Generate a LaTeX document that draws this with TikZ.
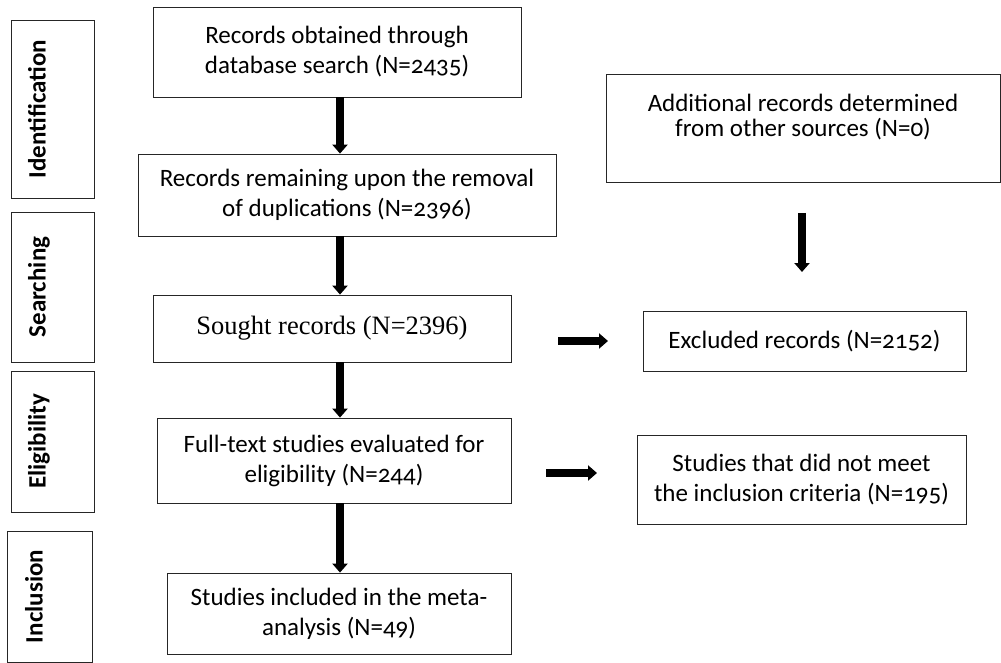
\documentclass[tikz,border=0pt]{standalone}
\usepackage{fontspec}
\setmainfont{Carlito}[Numbers=OldStyle]
\newfontfamily\serifbox{Liberation Serif}
\usetikzlibrary{arrows.meta}
\usetikzlibrary{positioning}

\begin{document}
\begin{tikzpicture}[x=1pt, y=-1pt]
    \tikzset{ box/.style  ={draw=black!85, line width=0.8pt, inner sep=0pt, align=center, font=\fontsize{25}{30}\selectfont} }
    \tikzset{ stage/.style={draw=black!85, line width=0.8pt, inner sep=0pt, rotate=90, text height=17pt, text depth=31pt, font=\fontsize{25}{28}\selectfont\bfseries} }
    \tikzset{ flow/.style ={-{Triangle[length=9pt,width=15pt]}, line width=7.5pt} }

    \useasboundingbox (0,0) rectangle (1001,663);

    % stages on the left
    \node[stage, minimum width=178pt, minimum height=83pt] (s1) at ( 52.5,109.0) {Identification};
    \node[stage, minimum width=150pt, minimum height=83pt] (s2) at ( 52.5,287.0) {Searching};
    \node[stage, minimum width=141pt, minimum height=83pt] (s3) at ( 52.5,441.5) {Eligibility};
    \node[stage, minimum width=131pt, minimum height=85pt] (s4) at ( 49.5,596.5) {Inclusion};

    % main column
    \node[box, minimum width=368pt, minimum height=90pt] (b1) at (337.0, 52.0) {Records obtained through\\database search (N=2435)};
    \node[box, minimum width=418pt, minimum height=82pt] (b2) at (347.0,195.0) {Records remaining upon the removal\\of duplications (N=2396)};
    \node[box, minimum width=358pt, minimum height=67pt, font=\serifbox\fontsize{26.5}{30}\selectfont] (b3) at (332.0,328.5) {Sought records (N=2396)};
    \node[box, minimum width=354pt, minimum height=85pt] (b4) at (334.0,460.5) {Full-text studies evaluated for\\eligibility (N=244)};
    \node[box, minimum width=344pt, minimum height=81pt] (b5) at (339.0,613.5) {Studies included in the meta-\\analysis (N=49)};

    % right column
    \node[box, minimum width=394pt, minimum height=108pt, font=\fontsize{25}{25}\selectfont] (rA) at (803.0,128.0) {Additional records determined\\from other sources (N=0)\\\mbox{}};
    \node[box, minimum width=323pt, minimum height=60pt] (rB) at (804.5,341.0) {Excluded records (N=2152)};
    \node[box, minimum width=329pt, minimum height=89pt] (rC) at (801.5,479.5) {Studies that did not meet\\the inclusion criteria (N=195)};

    \coordinate (spine) at (340,0);
    \coordinate (rA_s)  at (802,213);
    \coordinate (rA_e)  at (802,272);
    \coordinate (x1_s)  at (558,341);
    \coordinate (x1_e)  at (608,341);
    \coordinate (x2_s)  at (546,473);
    \coordinate (x2_e)  at (597,473);

    \draw[flow] (b1.south -| spine) -- (b2.north -| spine);
    \draw[flow] (b2.south -| spine) -- (b3.north -| spine);
    \draw[flow] (b3.south -| spine) -- (b4.north -| spine);
    \draw[flow] (b4.south -| spine) -- (b5.north -| spine);
    \draw[flow] (rA_s) -- (rA_e);
    \draw[flow] (x1_s) -- (x1_e);
    \draw[flow] (x2_s) -- (x2_e);
\end{tikzpicture}
\end{document}
